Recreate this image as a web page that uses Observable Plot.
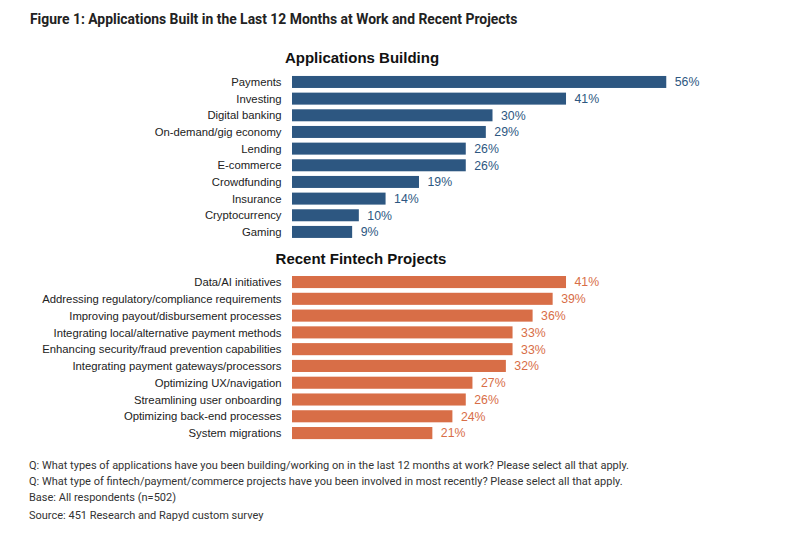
<!DOCTYPE html>
<html>
<head>
<meta charset="utf-8">
<script src="https://cdn.jsdelivr.net/npm/d3@7"></script>
<script src="https://cdn.jsdelivr.net/npm/@observablehq/plot@0.6"></script>
<style>
  html, body { margin: 0; padding: 0; background: #fff; }
  #wrap { position: relative; width: 800px; height: 536px; overflow: hidden; }
  .abs { position: absolute; white-space: nowrap; }
  #title { left: 30px; top: 10px; font: bold 13.9px Roboto, sans-serif; color: #222; line-height: 18px; }
  .sec { font: bold 15px "Liberation Sans", Arial, sans-serif; color: #111; line-height: 18px; transform: translateX(-50%); }
  .note { left: 29px; font: 11px Roboto, sans-serif; color: #333; line-height: 14px; }
  svg { position: absolute; left: 0; }
</style>
</head>
<body>
<div id="wrap">
  <div id="title" class="abs">Figure 1: Applications Built in the Last 12 Months at Work and Recent Projects</div>
  <div class="abs sec" style="left:362px; top:49px;">Applications Building</div>
  <div class="abs sec" style="left:361px; top:250px;">Recent Fintech Projects</div>
  <div class="abs note" style="top:459px;">Q: What types of applications have you been building/working on in the last 12 months at work? Please select all that apply.</div>
  <div class="abs note" style="top:475px;">Q: What type of fintech/payment/commerce projects have you been involved in most recently? Please select all that apply.</div>
  <div class="abs note" style="top:491px;">Base: All respondents (n=502)</div>
  <div class="abs note" style="top:509px;">Source: 451 Research and Rapyd custom survey</div>
</div>
<script>
const appCategories = ["Payments","Investing","Digital banking","On-demand/gig economy","Lending","E-commerce","Crowdfunding","Insurance","Cryptocurrency","Gaming"];
const appValues = [56,41,30,29,26,26,19,14,10,9];
const projCategories = ["Data/AI initiatives","Addressing regulatory/compliance requirements","Improving payout/disbursement processes","Integrating local/alternative payment methods","Enhancing security/fraud prevention capabilities","Integrating payment gateways/processors","Optimizing UX/navigation","Streamlining user onboarding","Optimizing back-end processes","System migrations"];
const projValues = [41,39,36,33,33,32,27,26,24,21];

const blue = "#2d5781";
const orange = "#d86e47";

function chart(cats, vals, color, top, height, marginTop, marginBottom) {
  const data = cats.map((c, i) => ({c, v: vals[i]}));
  const svg = Plot.plot({
    width: 800,
    height,
    marginLeft: 292,
    marginRight: 107,
    marginTop,
    marginBottom,
    x: {domain: [0, 60], axis: null},
    y: {domain: cats, padding: 0.28, round: false, axis: null},
    style: {fontFamily: "'Liberation Sans', Arial, sans-serif", fontSize: "11px", color: "#222", background: "transparent"},
    marks: [
      Plot.barX(data, {x: "v", y: "c", fill: color}),
      Plot.text(data, {x: "v", y: "c", text: d => d.v + "%", dx: 8, textAnchor: "start", fill: color, fontSize: 12.3}),
      Plot.axisY({tickSize: 0, tickPadding: 11, fontSize: 11.3, label: null, fill: "#222"})
    ]
  });
  svg.style.top = top + "px";
  document.getElementById("wrap").appendChild(svg);
}

chart(appCategories, appValues, blue, 44, 210, 27.3, 11.4);
chart(projCategories, projValues, orange, 250, 200, 21.3, 6.2);
</script>
</body>
</html>
